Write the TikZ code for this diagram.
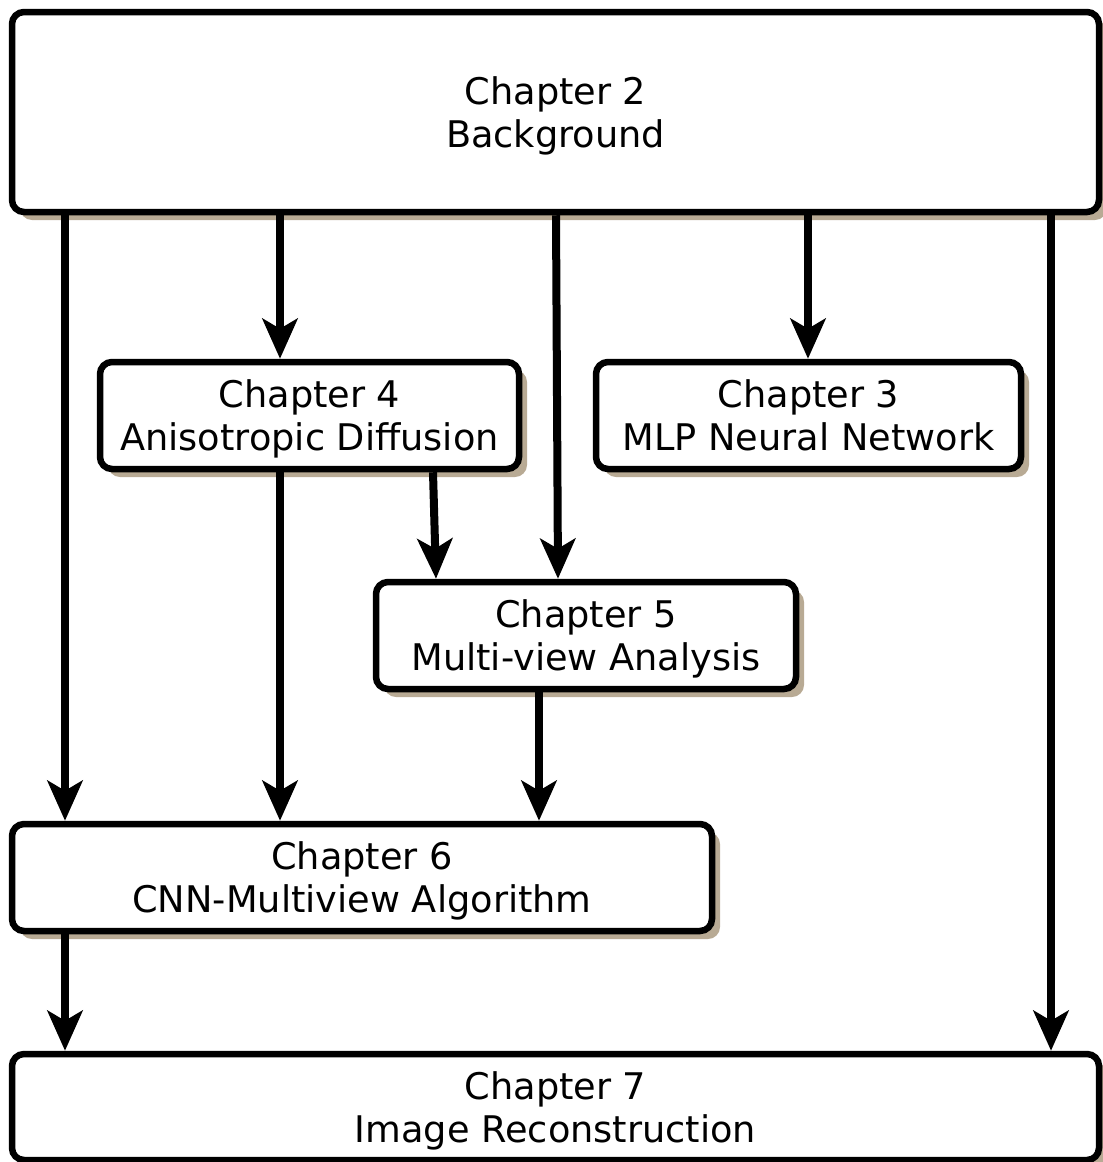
\documentclass[tikz,border=0pt]{standalone}
\usepackage{fontspec}
\setmainfont{DejaVu Sans}
\usepackage{tikz}
\usetikzlibrary{arrows.meta, positioning, shadows}
\definecolor{shadowtan}{HTML}{B8AA94}
\definecolor{boxborder}{HTML}{000000}

\begin{document}
\begin{tikzpicture}[
		x=1pt, y=-1pt,
		every node/.style={font=\fontsize{36.7}{43}\selectfont},
		chbox/.style={draw=boxborder, fill=white, rounded corners=12pt,
			line width=6.5pt, align=center, inner sep=0pt,
			minimum height=107pt, text depth=0pt,
			drop shadow={shadow xshift=8pt, shadow yshift=-8pt,
				fill=shadowtan, opacity=1}},
		arr/.style={-{Stealth[length=40pt, width=35pt, inset=10pt]},
			line width=8pt, boxborder},
		]
		\useasboundingbox (0,0) rectangle (1103,1162);

		% Chapter 2
		\node[chbox, minimum width=1087pt, minimum height=200pt] (ch2)
		at (555.5,112) {Chapter 2\\Background};

		% Chapter 4
		\node[chbox, minimum width=419pt] (ch4)
		at (309.5,415.5) {Chapter 4\\Anisotropic Diffusion};

		% Chapter 3
		\node[chbox, minimum width=425pt] (ch3)
		at (808.5,415.5) {Chapter 3\\MLP Neural Network};

		% Chapter 5
		\node[chbox, minimum width=420pt] (ch5)
		at (586,635.5) {Chapter 5\\Multi-view Analysis};

		% Chapter 6
		\node[chbox, minimum width=700pt] (ch6)
		at (362,877.5) {Chapter 6\\CNN-Multiview Algorithm};

		% Chapter 7
		\node[chbox, minimum width=1087pt, minimum height=106pt] (ch7)
		at (555.5,1107) {Chapter 7\\Image Reconstruction};

		% Arrows
		\draw[arr] (ch2.south -| 65,0) -- (ch6.north -| 65,0);
		\draw[arr] (ch2.south -| 280,0) -- (ch4.north -| 280,0);
		\draw[arr] (ch2.south -| 556,0) -- (ch5.north -| 558,0);
		\draw[arr] (ch2.south -| 808,0) -- (ch3.north -| 808,0);
		\draw[arr] (ch2.south -| 1051,0) -- (ch7.north -| 1051,0);
		\draw[arr] (ch4.south -| 280,0) -- (ch6.north -| 280,0);
		\draw[arr] (ch4.south -| 433,0) -- (ch5.north -| 436,0);
		\draw[arr] (ch5.south -| 539,0) -- (ch6.north -| 539,0);
		\draw[arr] (ch6.south -| 65,0) -- (ch7.north -| 65,0);
	\end{tikzpicture}
\end{document}
